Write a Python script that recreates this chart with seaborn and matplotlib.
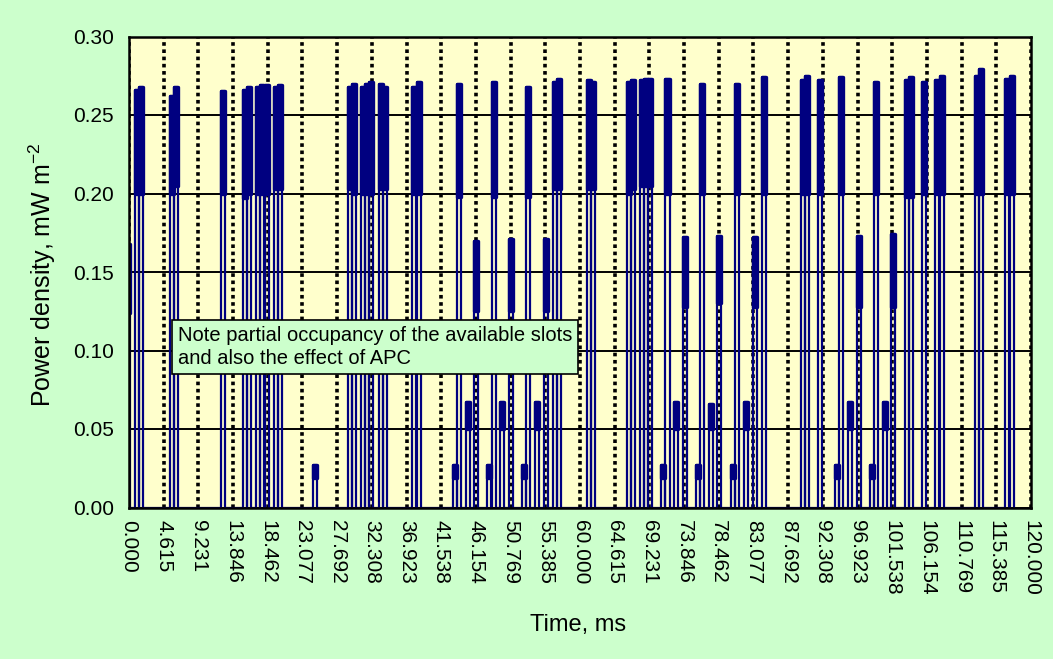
import pandas as pd
import seaborn as sns
import matplotlib.pyplot as plt

# burst start (ms), top of burst envelope, bottom of the modulated band (mW m-2)
burst_start = [-0.42, 0.75, 1.32, 5.40, 5.98, 12.27, 15.17, 15.75, 16.90, 17.48, 18.05,
               19.23, 19.81, 24.45, 29.09, 29.66, 30.82, 31.39, 31.97, 33.21, 33.79,
               37.70, 38.28, 43.05, 43.63, 44.78, 45.94, 47.66, 48.23, 49.39, 50.54,
               52.29, 52.87, 54.02, 55.18, 56.41, 56.99, 60.95, 61.52, 66.21, 66.79,
               67.94, 68.52, 69.09, 70.80, 71.37, 72.53, 73.68, 75.40, 75.98, 77.13,
               78.28, 80.10, 80.67, 81.83, 82.98, 84.15, 89.35, 89.92, 91.65, 93.92,
               94.50, 95.65, 96.81, 98.53, 99.11, 100.26, 101.41, 103.21, 103.79, 105.52,
               107.25, 107.83, 112.49, 113.07, 116.56, 117.14]
burst_top = [0.168, 0.266, 0.268, 0.262, 0.268, 0.265, 0.266, 0.268, 0.268, 0.269, 0.269,
             0.268, 0.269, 0.027, 0.268, 0.270, 0.268, 0.270, 0.271, 0.270, 0.268,
             0.268, 0.271, 0.027, 0.270, 0.067, 0.170, 0.027, 0.271, 0.067, 0.171,
             0.027, 0.268, 0.067, 0.171, 0.271, 0.273, 0.272, 0.271, 0.271, 0.272,
             0.272, 0.273, 0.273, 0.027, 0.273, 0.067, 0.172, 0.027, 0.270, 0.066,
             0.173, 0.027, 0.270, 0.067, 0.172, 0.274, 0.272, 0.275, 0.272, 0.027,
             0.274, 0.067, 0.173, 0.027, 0.271, 0.067, 0.174, 0.272, 0.274, 0.271,
             0.272, 0.275, 0.275, 0.279, 0.273, 0.275]
burst_floor = [0.124, 0.200, 0.200, 0.200, 0.205, 0.200, 0.197, 0.200, 0.200, 0.200, 0.200,
               0.203, 0.203, 0.019, 0.203, 0.200, 0.200, 0.200, 0.200, 0.203, 0.203,
               0.200, 0.200, 0.019, 0.198, 0.050, 0.125, 0.019, 0.198, 0.050, 0.125,
               0.019, 0.198, 0.050, 0.125, 0.203, 0.203, 0.203, 0.203, 0.200, 0.203,
               0.205, 0.205, 0.205, 0.019, 0.200, 0.050, 0.128, 0.019, 0.200, 0.050,
               0.130, 0.019, 0.200, 0.050, 0.128, 0.200, 0.200, 0.200, 0.200, 0.019,
               0.200, 0.050, 0.128, 0.019, 0.200, 0.050, 0.128, 0.198, 0.198, 0.200,
               0.200, 0.200, 0.200, 0.200, 0.200, 0.200]
BURST_MS = 0.54

x_labels = ["0.000", "4.615", "9.231", "13.846", "18.462", "23.077", "27.692", "32.308",
            "36.923", "41.538", "46.154", "50.769", "55.385", "60.000", "64.615", "69.231",
            "73.846", "78.462", "83.077", "87.692", "92.308", "96.923", "101.538",
            "106.154", "110.769", "115.385", "120.000"]
y_labels = ["0.00", "0.05", "0.10", "0.15", "0.20", "0.25", "0.30"]

note = "Note partial occupancy of the available slots\nand also the effect of APC"

NAVY = "#000080"

# trace: each burst rises from zero, sits at its envelope and drops back
rows = []
for s, top in zip(burst_start, burst_top):
    e = s + BURST_MS
    rows += [(s, 0.0), (s, top), (e, top), (e, 0.0)]
trace = pd.DataFrame(rows, columns=["t", "p"])

sns.set_style("white")
plt.rcParams["font.family"] = ["Liberation Sans", "DejaVu Sans"]
plt.rcParams["mathtext.fontset"] = "custom"
plt.rcParams["mathtext.rm"] = "Liberation Sans"
plt.rcParams["text.color"] = "black"
plt.rcParams["xtick.color"] = "black"
plt.rcParams["ytick.color"] = "black"

fig = plt.figure(figsize=(10.53, 6.59), dpi=100, facecolor="#CCFFCC")
ax = fig.add_axes([129 / 1053, 1 - 507.5 / 659, 902 / 1053, 471 / 659])
ax.set_facecolor("#FFFFCC")

sns.lineplot(data=trace, x="t", y="p", sort=False, estimator=None,
             color=NAVY, linewidth=1.6, ax=ax)
for s, top, fl in zip(burst_start, burst_top, burst_floor):
    ax.fill_between([s, s + BURST_MS], fl, top, color=NAVY, edgecolor=NAVY, linewidth=2.4)

ax.set_xlim(0, 120)
ax.set_ylim(0, 0.30)
ax.set_xticks([float(v) for v in x_labels])
ax.set_xticklabels(x_labels, rotation=-90, fontsize=15)
ax.set_yticks([float(v) for v in y_labels])
ax.set_yticklabels(y_labels, fontsize=15)
ax.tick_params(axis="both", direction="out", length=6, width=1.5,
               color="black", labelcolor="black")
ax.tick_params(axis="x", pad=3)
ax.tick_params(axis="y", pad=5)
ax.set_xlabel("")
ax.set_ylabel("")

ax.set_axisbelow(True)
ax.grid(axis="y", color="black", linewidth=1.4)
ax.grid(axis="x", color="black", linewidth=2.6, linestyle=(0, (1, 1)))
for sp in ax.spines.values():
    sp.set_color("black")
    sp.set_linewidth(1.8)

ax.text(6.5, 0.1023, note, fontsize=14.5, va="center", ha="left", linespacing=1.3,
        color="black",
        bbox=dict(boxstyle="square,pad=0.3", facecolor="#CCFFCC", edgecolor="black", linewidth=1.2))

fig.text(578 / 1053, 1 - 625 / 659, "Time, ms", fontsize=17, ha="center", va="center")
fig.text(42 / 1053, 1 - 275 / 659, "Power density, mW m$^{-2}$", fontsize=18,
         rotation=90, ha="center", va="center")

fig.savefig("out.png", dpi=100, facecolor=fig.get_facecolor())
